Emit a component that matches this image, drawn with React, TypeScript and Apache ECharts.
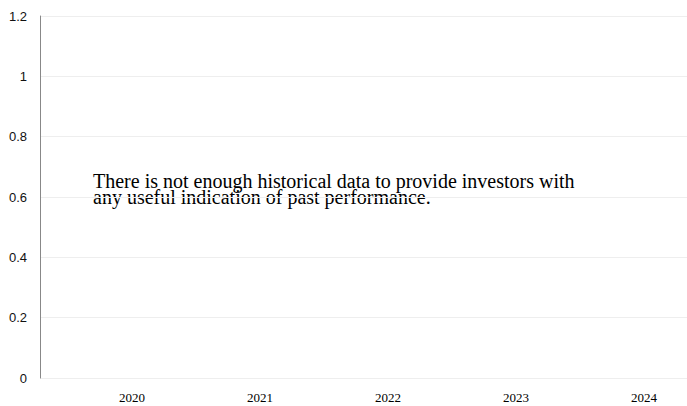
import React, { useEffect, useRef } from "react";
import * as echarts from "echarts";

const categories = ["2020", "2021", "2022", "2023", "2024"];
const fundValues: (number | null)[] = [null, null, null, null, null];
const yTicks = { min: 0, max: 1.2, interval: 0.2 };
const noticeLines = [
  "There is not enough historical data to provide investors with",
  "any useful indication of past performance.",
];

export default function App() {
  const ref = useRef<HTMLDivElement>(null);
  useEffect(() => {
    if (!ref.current) return;
    const chart = echarts.init(ref.current, undefined, { renderer: "svg" });
    chart.setOption({
      animation: false,
      backgroundColor: "#ffffff",
      grid: [
        { left: 40, right: 0, top: 16, bottom: 28, containLabel: false },
        { left: 132, right: 43, top: 16, bottom: 28, containLabel: false },
      ],
      xAxis: [
        {
          type: "category",
          gridIndex: 0,
          data: categories,
          show: false,
        },
        {
          type: "category",
          gridIndex: 1,
          data: categories,
          boundaryGap: false,
          axisLine: { show: false },
          axisTick: { show: false },
          splitLine: { show: false },
          axisLabel: {
            margin: 13,
            fontFamily: "'Liberation Serif', 'Times New Roman', serif",
            fontSize: 13,
            color: "#000",
          },
        },
      ],
      yAxis: [
        {
          type: "value",
          gridIndex: 0,
          min: yTicks.min,
          max: yTicks.max,
          interval: yTicks.interval,
          axisLine: { show: true, lineStyle: { color: "#888", width: 1 } },
          axisTick: { show: false },
          splitLine: { show: true, lineStyle: { color: "#eeeeee", width: 1 } },
          axisLabel: {
            margin: 13,
            fontFamily: "'Liberation Sans', Arial, sans-serif",
            fontSize: 13,
            color: "#111",
          },
        },
        {
          type: "value",
          gridIndex: 1,
          min: yTicks.min,
          max: yTicks.max,
          interval: yTicks.interval,
          show: false,
        },
      ],
      series: [
        {
          type: "line",
          xAxisIndex: 1,
          yAxisIndex: 1,
          data: fundValues,
          showSymbol: false,
        },
      ],
      graphic: [
        {
          type: "text",
          left: 93,
          top: 171,
          style: {
            text: noticeLines.join("\n"),
            font: "20px 'Liberation Serif', 'Times New Roman', serif",
            lineHeight: 16,
            fill: "#000",
          },
        },
      ],
    });
    return () => chart.dispose();
  }, []);
  return (
    <div
      ref={ref}
      style={{ position: "absolute", left: 0, top: 0, width: 687, height: 406 }}
    />
  );
}
